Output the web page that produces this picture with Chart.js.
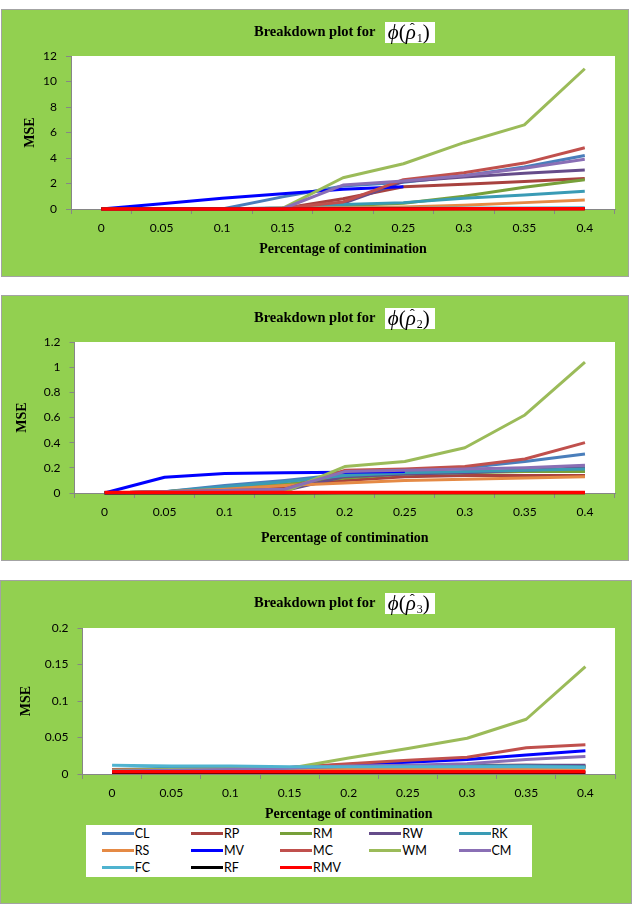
<!DOCTYPE html>
<html>
<head>
<meta charset="utf-8">
<script src="https://cdn.jsdelivr.net/npm/chart.js@4.4.1/dist/chart.umd.min.js"></script>
<style>
  html, body { margin:0; padding:0; background:#fff; }
  #page { position:relative; width:633px; height:914px; background:#fff; overflow:hidden; }
  .panel { position:absolute; background:#92D050; border:1px solid #a3a3a3; box-sizing:border-box; }
  canvas { position:absolute; left:0; }
  .title { position:absolute; left:254px; height:22px; line-height:22px;
           font-family:"Liberation Serif", serif; font-weight:bold; font-size:14.5px; color:#000; white-space:nowrap; }
  .math { display:inline-block; margin-left:6px; background:#fff; height:21px; line-height:21px; padding:0 5px 0 3px;
          font-family:"Liberation Serif", serif; font-weight:normal; font-size:21px; vertical-align:middle; }
  .hat { position:relative; display:inline-block; }
  .hat .h { position:absolute; left:4px; top:-1px; font-size:15px; line-height:15px; font-style:normal; }
  .math sub { font-size:12px; line-height:0; vertical-align:-3px; margin-left:1px; }
  #legend { position:absolute; left:86px; top:825px; width:446px; height:52px; background:#fff; }
  .item { position:absolute; height:16px; display:flex; align-items:center;
          font-family:Lato, "Liberation Sans", sans-serif; font-size:12.5px; color:#000; white-space:nowrap; }
  .swatch { display:inline-block; width:32px; height:3px; margin-right:1px; }
</style>
</head>
<body>
<div id="page">
  <div class="panel" style="left:1px;top:9px;width:628px;height:268px"></div>
  <div class="panel" style="left:1px;top:295px;width:628px;height:266px"></div>
  <div class="panel" style="left:0px;top:580px;width:632px;height:324px"></div>

  <canvas id="c1" width="633" height="268" style="top:9px"></canvas>
  <canvas id="c2" width="633" height="266" style="top:295px"></canvas>
  <canvas id="c3" width="633" height="324" style="top:580px"></canvas>

  <div class="title" style="top:20px">Breakdown plot for <span class="math"><i>ϕ</i>(<span class="hat"><i>ρ</i><span class="h">ˆ</span></span><sub>1</sub>)</span></div>
  <div class="title" style="top:306px">Breakdown plot for <span class="math"><i>ϕ</i>(<span class="hat"><i>ρ</i><span class="h">ˆ</span></span><sub>2</sub>)</span></div>
  <div class="title" style="top:591px">Breakdown plot for <span class="math"><i>ϕ</i>(<span class="hat"><i>ρ</i><span class="h">ˆ</span></span><sub>3</sub>)</span></div>

  <div id="legend"></div>
</div>
<script>
// ---------- data ----------
const categories = ['0', '0.05', '0.1', '0.15', '0.2', '0.25', '0.3', '0.35', '0.4'];
const seriesNames = ['CL', 'RP', 'RM', 'RW', 'RK', 'RS', 'MV', 'MC', 'WM', 'CM', 'FC', 'RF', 'RMV'];
const seriesColors = ['#4A7EBB', '#A8423F', '#77A03A', '#654C8A', '#3A9BB5', '#E58A45', '#0000FF',
                      '#C0504D', '#9BBB59', '#8A6FB5', '#4FB3CF', '#000000', '#FF0000'];

const xTitle = 'Percentage of contimination';
const yTitle = 'MSE';

// panel 1 : phi(rho1)
const rho1_CL  = [0, 0, 0, 0.95, 1.8, 2.1, 2.6, 3.3, 4.2];
const rho1_RP  = [0, 0, 0, 0.05, 0.8, 1.75, 1.95, 2.15, 2.4];
const rho1_RM  = [0, 0, 0, 0, 0.25, 0.45, 1.0, 1.7, 2.3];
const rho1_RW  = [0, 0, 0, 0.02, 0.45, 2.15, 2.5, 2.8, 3.05];
const rho1_RK  = [0, 0, 0, 0.1, 0.35, 0.5, 0.85, 1.1, 1.4];
const rho1_RS  = [0, 0, 0, 0.05, 0.1, 0.15, 0.3, 0.5, 0.7];
const rho1_MV  = [0, 0.42, 0.84, 1.2, 1.55, 1.75, null, null, null];
const rho1_MC  = [0, 0, 0, 0.05, 0.55, 2.3, 2.85, 3.6, 4.8];
const rho1_WM  = [0, 0, 0, 0.05, 2.45, 3.55, 5.2, 6.6, 11.0];
const rho1_CM  = [0, 0, 0, 0.02, 1.88, 2.2, 2.6, 3.2, 3.9];
const rho1_FC  = [0, 0, 0, 0.02, 0.05, 0.05, 0.08, 0.08, 0.1];
const rho1_RF  = [0, 0, 0, 0, 0.01, 0.01, 0.02, 0.02, 0.02];
const rho1_RMV = [0, 0, 0, 0, 0, 0, 0.01, 0.01, 0.02];

// panel 2 : phi(rho2)
const rho2_CL  = [0, 0.01, 0.06, 0.1, 0.15, 0.17, 0.2, 0.25, 0.31];
const rho2_RP  = [0, 0.01, 0.03, 0.05, 0.1, 0.13, 0.14, 0.14, 0.14];
const rho2_RM  = [0, 0.01, 0.04, 0.07, 0.12, 0.15, 0.16, 0.17, 0.17];
const rho2_RW  = [0, 0.01, 0.02, 0.02, 0.13, 0.15, 0.16, 0.18, 0.2];
const rho2_RK  = [0, 0.01, 0.05, 0.09, 0.14, 0.16, 0.17, 0.18, 0.19];
const rho2_RS  = [0, 0.01, 0.03, 0.06, 0.08, 0.1, 0.11, 0.12, 0.13];
const rho2_MV  = [0, 0.125, 0.155, 0.16, 0.165, 0.17, null, null, null];
const rho2_MC  = [0, 0.01, 0.02, 0.03, 0.18, 0.19, 0.21, 0.27, 0.4];
const rho2_WM  = [0, 0, 0, 0.01, 0.21, 0.25, 0.36, 0.62, 1.04];
const rho2_CM  = [0, 0.01, 0.02, 0.03, 0.17, 0.18, 0.19, 0.2, 0.22];
const rho2_FC  = [0, 0, 0, 0, 0.002, 0.002, 0.003, 0.003, 0.003];
const rho2_RF  = [0, 0, 0, 0, 0.001, 0.001, 0.001, 0.001, 0.001];
const rho2_RMV = [0.003, 0.003, 0.003, 0.003, 0.003, 0.003, 0.003, 0.003, 0.003];

// panel 3 : phi(rho3)
const rho3_CL  = [0.004, 0.006, 0.007, 0.008, 0.009, 0.009, 0.01, 0.01, 0.01];
const rho3_RP  = [0.005, 0.006, 0.007, 0.008, 0.01, 0.011, 0.012, 0.012, 0.011];
const rho3_RM  = [0.004, 0.005, 0.006, 0.007, 0.008, 0.009, 0.009, 0.009, 0.009];
const rho3_RW  = [0.004, 0.005, 0.006, 0.007, 0.009, 0.01, 0.011, 0.012, 0.012];
const rho3_RK  = [0.006, 0.008, 0.009, 0.009, 0.01, 0.01, 0.011, 0.011, 0.01];
const rho3_RS  = [0.003, 0.004, 0.005, 0.005, 0.006, 0.006, 0.006, 0.007, 0.007];
const rho3_MV  = [0.003, 0.003, 0.004, 0.009, 0.013, 0.016, 0.02, 0.026, 0.032];
const rho3_MC  = [0.006, 0.006, 0.007, 0.009, 0.014, 0.019, 0.023, 0.036, 0.04];
const rho3_WM  = [0.005, 0.006, 0.007, 0.008, 0.022, 0.035, 0.049, 0.075, 0.147];
const rho3_CM  = [0.004, 0.005, 0.006, 0.008, 0.011, 0.012, 0.014, 0.02, 0.024];
const rho3_FC  = [0.012, 0.011, 0.011, 0.01, 0.01, 0.01, 0.01, 0.01, 0.009];
const rho3_RF  = [0.002, 0.002, 0.002, 0.002, 0.002, 0.002, 0.002, 0.002, 0.002];
const rho3_RMV = [0.003, 0.003, 0.003, 0.003, 0.003, 0.003, 0.003, 0.003, 0.003];

// y tick values and labels
const yTicks1 = [0, 2, 4, 6, 8, 10, 12];
const yLabels1 = ['0', '2', '4', '6', '8', '10', '12'];
const yTicks2 = [0, 0.2, 0.4, 0.6, 0.8, 1.0, 1.2];
const yLabels2 = ['0', '0.2', '0.4', '0.6', '0.8', '1', '1.2'];
const yTicks3 = [0, 0.05, 0.1, 0.15, 0.2];
const yLabels3 = ['0', '0.05', '0.1', '0.15', '0.2'];

// ---------- build ----------
const panel1 = [rho1_CL, rho1_RP, rho1_RM, rho1_RW, rho1_RK, rho1_RS, rho1_MV, rho1_MC, rho1_WM, rho1_CM, rho1_FC, rho1_RF, rho1_RMV];
const panel2 = [rho2_CL, rho2_RP, rho2_RM, rho2_RW, rho2_RK, rho2_RS, rho2_MV, rho2_MC, rho2_WM, rho2_CM, rho2_FC, rho2_RF, rho2_RMV];
const panel3 = [rho3_CL, rho3_RP, rho3_RM, rho3_RW, rho3_RK, rho3_RS, rho3_MV, rho3_MC, rho3_WM, rho3_CM, rho3_FC, rho3_RF, rho3_RMV];

const AXIS = '#868686';
const serif = 'Liberation Serif';
const sans = 'Lato';

const plotAreaBg = {
  id: 'plotAreaBg',
  beforeDraw(chart) {
    const { ctx, chartArea: a } = chart;
    ctx.save();
    ctx.fillStyle = '#ffffff';
    ctx.fillRect(a.left, a.top, a.right - a.left, a.bottom - a.top);
    ctx.restore();
  }
};

function makeChart(id, series, yTicks, yLabels, geo) {
  const datasets = series.map((vals, i) => ({
    label: seriesNames[i],
    data: vals,
    borderColor: seriesColors[i],
    backgroundColor: seriesColors[i],
    borderWidth: seriesNames[i] === 'RMV' ? 3.5 : 3,
    pointRadius: 0,
    pointHoverRadius: 0,
    tension: 0,
    borderJoinStyle: 'round',
    fill: false,
    clip: false,
    spanGaps: false,
    order: seriesNames.length - i
  }));
  return new Chart(document.getElementById(id), {
    type: 'line',
    data: { labels: categories, datasets },
    plugins: [plotAreaBg],
    options: {
      responsive: false,
      animation: false,
      events: [],
      layout: { padding: { left: geo.padLeft, right: geo.padRight, top: geo.padTop, bottom: geo.padBottom } },
      plugins: { legend: { display: false }, title: { display: false }, tooltip: { enabled: false } },
      scales: {
        x: {
          type: 'category',
          offset: true,
          grid: { display: true, offset: true, drawOnChartArea: false, drawTicks: true, tickLength: 5, color: AXIS, lineWidth: 1 },
          border: { display: true, color: AXIS, width: 1 },
          ticks: { color: '#000', font: { family: sans, size: 12 }, padding: 7, maxRotation: 0, autoSkip: false },
          title: { display: true, text: xTitle, color: '#000', padding: { top: 0, bottom: 0 },
                   font: { family: serif, size: 14, weight: 'bold', lineHeight: 1 } },
          afterFit: s => { s.height = geo.xH; }
        },
        y: {
          min: yTicks[0],
          max: yTicks[yTicks.length - 1],
          grid: { display: true, drawOnChartArea: false, drawTicks: true, tickLength: 5, color: AXIS, lineWidth: 1 },
          border: { display: true, color: AXIS, width: 1 },
          afterBuildTicks: axis => { axis.ticks = yTicks.map(v => ({ value: v })); },
          ticks: { color: '#000', font: { family: sans, size: 12 }, padding: 9,
                   callback: (v, i) => yLabels[i] },
          title: { display: true, text: yTitle, color: '#000', padding: { top: 0, bottom: 0 },
                   font: { family: serif, size: 14, weight: 'bold', lineHeight: 1 } },
          afterFit: s => { s.width = geo.yW; }
        }
      }
    }
  });
}

makeChart('c1', panel1, yTicks1, yLabels1, { padLeft: 23, yW: 48, padRight: 18, padTop: 47, padBottom: 21, xH: 47 });
makeChart('c2', panel2, yTicks2, yLabels2, { padLeft: 15, yW: 59.5, padRight: 18, padTop: 47, padBottom: 16, xH: 52 });
makeChart('c3', panel3, yTicks3, yLabels3, { padLeft: 19, yW: 63.5, padRight: 18, padTop: 48, padBottom: 83, xH: 47 });

// ---------- legend (HTML, built from the series arrays) ----------
const legend = document.getElementById('legend');
seriesNames.forEach((name, i) => {
  const col = i % 5, row = Math.floor(i / 5);
  const it = document.createElement('div');
  it.className = 'item';
  it.style.left = (15.7 + col * 89.2) + 'px';
  it.style.top = (8.3 + row * 17 - 8) + 'px';
  const sw = document.createElement('span');
  sw.className = 'swatch';
  sw.style.background = seriesColors[i];
  it.appendChild(sw);
  it.appendChild(document.createTextNode(name));
  legend.appendChild(it);
});
</script>
</body>
</html>
